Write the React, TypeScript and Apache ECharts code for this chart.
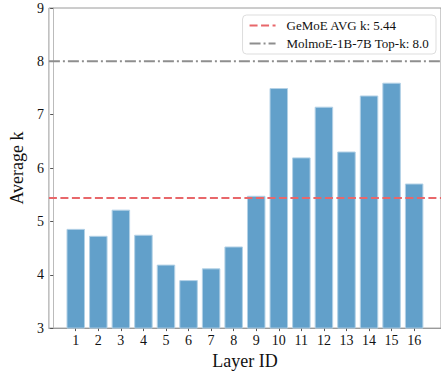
import React, { useEffect, useRef } from "react";
import * as echarts from "echarts";

const layers = [1, 2, 3, 4, 5, 6, 7, 8, 9, 10, 11, 12, 13, 14, 15, 16];
const avgK = [4.86, 4.73, 5.22, 4.75, 4.19, 3.9, 4.12, 4.53, 5.48, 7.5, 6.2, 7.15, 6.31, 7.36, 7.6, 5.71];
const gemoeAvg = 5.44;
const molmoeTopK = 8.0;
const xRange = [-0.19, 17.19];
const yTicks = [3, 4, 5, 6, 7, 8, 9];

const FONT = "'Liberation Serif', 'Times New Roman', serif";
const gemoeName = "GeMoE AVG k: " + gemoeAvg.toFixed(2);
const molmoeName = "MolmoE-1B-7B Top-k: " + molmoeTopK.toFixed(1);

export default function App() {
  const ref = useRef<HTMLDivElement>(null);
  useEffect(() => {
    if (!ref.current) return;
    const chart = echarts.init(ref.current, undefined, { renderer: "svg" });
    chart.setOption({
      animation: false,
      backgroundColor: "#ffffff",
      grid: {
        left: 38,
        right: 0,
        top: 8,
        bottom: 36,
        show: true,
        borderColor: "#9a9a9a",
        borderWidth: 1,
      },
      legend: {
        orient: "vertical",
        right: 5,
        top: 15,
        align: "left",
        padding: [4, 7, 4, 6],
        itemGap: 5,
        itemWidth: 26,
        itemHeight: 14,
        borderColor: "#dddddd",
        borderWidth: 1,
        borderRadius: 4,
        backgroundColor: "#ffffff",
        itemStyle: { opacity: 0 },
        textStyle: { fontFamily: FONT, fontSize: 13, color: "#111", padding: [0, 0, 0, 6] },
        data: [gemoeName, molmoeName],
      },
      xAxis: {
        type: "value",
        min: xRange[0],
        max: xRange[1],
        name: "Layer ID",
        nameLocation: "middle",
        nameGap: 14,
        nameTextStyle: { fontFamily: FONT, fontSize: 18, color: "#111" },
        axisLine: { show: true, lineStyle: { color: "#9a9a9a" } },
        axisTick: { show: true, length: 3, customValues: layers, lineStyle: { color: "#555" } },
        axisLabel: {
          customValues: layers,
          fontFamily: FONT,
          fontSize: 14,
          color: "#111",
          margin: 5,
        },
        splitLine: { show: false },
      },
      yAxis: {
        type: "value",
        min: yTicks[0],
        max: yTicks[yTicks.length - 1],
        interval: 1,
        name: "Average k",
        nameLocation: "middle",
        nameGap: 20,
        nameTextStyle: { fontFamily: FONT, fontSize: 18, color: "#111" },
        axisLine: { show: true, lineStyle: { color: "#bbbbbb" } },
        axisTick: { show: true, length: 3, lineStyle: { color: "#555" } },
        axisLabel: { fontFamily: FONT, fontSize: 14, color: "#111", margin: 5 },
        splitLine: { show: false },
      },
      series: [
        {
          type: "bar",
          barWidth: 18.5,
          data: layers.map((l, i) => [l, avgK[i]]),
          itemStyle: { color: "#62a0ca", borderColor: "#b3d1e6", borderWidth: 1 },
          z: 2,
        },
        {
          name: gemoeName,
          type: "line",
          symbol: "none",
          data: [
            [xRange[0], gemoeAvg],
            [xRange[1], gemoeAvg],
          ],
          lineStyle: { color: "#e8676a", width: 2, type: [8, 3.5] },
          itemStyle: { color: "#e8676a" },
          z: 3,
        },
        {
          name: molmoeName,
          type: "line",
          symbol: "none",
          data: [
            [xRange[0], molmoeTopK],
            [xRange[1], molmoeTopK],
          ],
          lineStyle: { color: "#8e8e8e", width: 2, type: [11, 3, 2, 3] },
          itemStyle: { color: "#8e8e8e" },
          z: 3,
        },
      ],
    });
    return () => chart.dispose();
  }, []);
  return (
    <div
      ref={ref}
      style={{ position: "fixed", left: 0, top: 0, width: 441, height: 375 }}
    />
  );
}
